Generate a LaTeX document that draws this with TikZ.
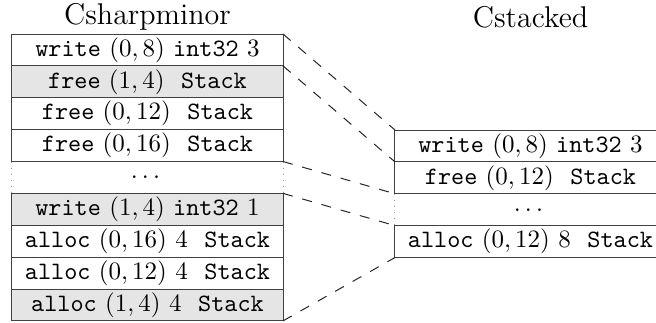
\documentclass[tikz,border=0pt]{standalone}
\usepackage{amsmath}
\usetikzlibrary{positioning}
\tikzset{
  cell/.style={draw=black!75, minimum width=108.4pt, minimum height=12.75pt,
    inner sep=0pt, outer sep=0pt},
  shaded/.style={cell, fill=black!10},
  gap/.style={minimum width=108.4pt, minimum height=12.75pt, inner sep=0pt, outer sep=0pt},
  link/.style={black!85, dash pattern=on 4pt off 4pt},
  title/.style={font=\large},
}
\newcommand{\tw}[1]{\texttt{#1}}

\begin{document}
\begin{tikzpicture}[x=0.4pt, y=-0.4pt]
  \useasboundingbox (0,0) rectangle (656,322);
  \clip (0,0) rectangle (656,322);

  % titles
  \node[title] (tl) at (147.5,17) {Csharpminor};
  \node[title] (tr) at (530.5,17) {Cstacked};

  % Csharpminor trace
  \node[cell, anchor=north west] (l1) at (12,34) {\tw{write}~$(0,8)$~\tw{int32}\ $3$};
  \node[shaded, below=0pt of l1] (l2) {\tw{free}~$(1,4)$~~\tw{Stack}};
  \node[cell, below=0pt of l2] (l3) {\tw{free}~$(0,12)$~~\tw{Stack}};
  \node[cell, below=0pt of l3] (l4) {\tw{free}~$(0,16)$~~\tw{Stack}};
  \node[gap, below=0pt of l4] (l5) {$\dots$};
  \node[shaded, below=0pt of l5] (l6) {\tw{write}~$(1,4)$~\tw{int32}\ $1$};
  \node[cell, below=0pt of l6] (l7) {\tw{alloc}~$(0,16)$~$4$~~\tw{Stack}};
  \node[cell, below=0pt of l7] (l8) {\tw{alloc}~$(0,12)$~$4$~~\tw{Stack}};
  \node[shaded, below=0pt of l8] (l9) {\tw{alloc}~$(1,4)$~$4$~~\tw{Stack}};
  \draw[black!40, dotted] (l5.north west) -- (l5.south west);
  \draw[black!40, dotted] (l5.north east) -- (l5.south east);

  % Cstacked trace
  \node[cell, anchor=north west] (r1) at (395,130) {\tw{write}~$(0,8)$~\tw{int32}\ $3$};
  \node[cell, below=0pt of r1] (r2) {\tw{free}~$(0,12)$~~\tw{Stack}};
  \node[gap, below=0pt of r2] (r3) {$\dots$};
  \node[cell, below=0pt of r3] (r4) {\tw{alloc}~$(0,12)$~$8$~~\tw{Stack}};
  \draw[black!40, dotted] (r3.north west) -- (r3.south west);

  % correspondence
  \draw[link] (l1.north east) -- (r1.north west);
  \draw[link] (l2.north east) -- (r2.north west);
  \draw[link] (l5.north east) -- (r3.north west);
  \draw[link] (l6.north east) -- (r4.north west);
  \draw[link] (l9.south east) -- (r4.south west);
\end{tikzpicture}
\end{document}
